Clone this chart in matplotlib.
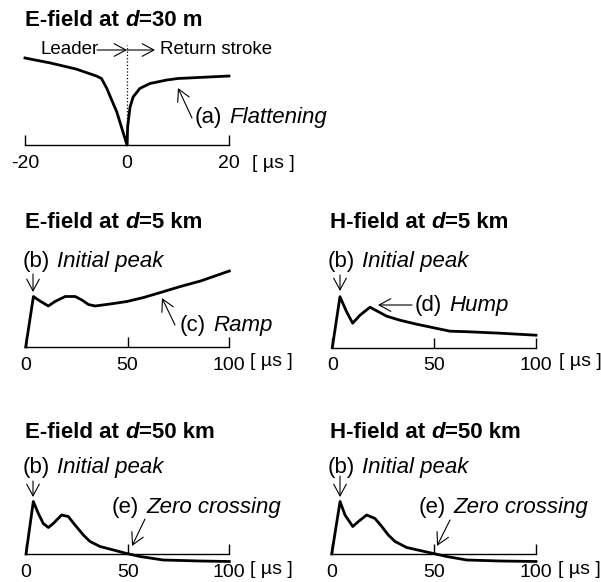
import matplotlib
matplotlib.use("Agg")
import matplotlib.pyplot as plt

plt.rcParams['font.family'] = ['Liberation Sans', 'DejaVu Sans']

# ---------------- data (amplitude in arbitrary units, time in microseconds) -------------
e30_t = [-20, -15, -10, -6, -5, -4, -2, 0, 0.13, 0.6, 1.2, 2.5, 4.5, 7.8, 10, 14, 20]
e30_v = [1.74, 1.64, 1.52, 1.38, 1.33, 1.14, 0.66, 0.0, 0.37, 0.76, 0.96, 1.13, 1.23, 1.30, 1.33, 1.35, 1.38]

e5_t = [0, 3.8, 7.0, 11.1, 14.4, 19.4, 24.3, 27.6, 30.8, 34.1, 41.5, 49.7, 57.9, 66.2, 76.0, 85.9, 100]
e5_v = [0.0, 1.01, 0.92, 0.82, 0.91, 1.01, 1.01, 0.94, 0.85, 0.82, 0.86, 0.91, 0.99, 1.09, 1.21, 1.32, 1.52]

h5_t = [0, 3.76, 7.0, 10.0, 13.6, 18.5, 22.6, 26.7, 33.2, 41.4, 49.6, 57.8, 66.0, 82.3, 100]
h5_v = [0.0, 1.02, 0.72, 0.49, 0.65, 0.81, 0.72, 0.63, 0.55, 0.47, 0.40, 0.33, 0.32, 0.29, 0.25]

e50_t = [0, 3.6, 6.07, 8.5, 11.0, 13.4, 17.5, 20.8, 24.1, 28.2, 31.5, 36.4, 43.0, 49.5, 56.1, 67.5, 85.6, 100]
e50_v = [0.0, 1.05, 0.81, 0.61, 0.53, 0.61, 0.78, 0.75, 0.58, 0.38, 0.25, 0.15, 0.08, 0.01, -0.05, -0.12, -0.14, -0.15]

h50_t = [0, 4.1, 6.5, 10.3, 13.1, 17.1, 21.2, 24.5, 27.7, 31.0, 36.7, 43.2, 49.8, 56.3, 66.1, 82.4, 100]
h50_v = [0.0, 1.05, 0.78, 0.55, 0.65, 0.78, 0.71, 0.55, 0.38, 0.25, 0.13, 0.07, 0.01, -0.05, -0.12, -0.14, -0.15]

ticks_near = [-20, 0, 20]
ticks_far = [0, 50, 100]
tick_labels_near = ['-20', '0', '20']
tick_labels_far = ['0', '50', '100']
unit_label = '[ µs ]'
leader_marker_top = 2.0  # height of dotted divider at t = 0

# ---------------- layout helpers ----------------
W, H = 601, 582
fig = plt.figure(figsize=(W / 100, H / 100), dpi=100)

FS_TITLE = 16
FS_TEXT = 16
FS_SMALL = 13.5
FS_TICK = 14
SCALE = 50.0  # pixels per amplitude unit


def fx(x):
    return x / W


def fy(y):
    return 1 - y / H


def panel(x0px, x1px, basepx, xlim, ticks, labels, top=1.9, bot=0.4):
    ax = fig.add_axes([fx(x0px), 1 - (basepx + bot * SCALE) / H,
                       (x1px - x0px) / W, (top + bot) * SCALE / H])
    ax.set_xlim(xlim)
    ax.set_ylim(-bot, top)
    ax.patch.set_visible(False)
    for s in ('left', 'right', 'top'):
        ax.spines[s].set_visible(False)
    ax.spines['bottom'].set_position(('data', 0))
    ax.spines['bottom'].set_bounds(xlim[0], xlim[1])
    ax.spines['bottom'].set_linewidth(1.0)
    ax.set_yticks([])
    ax.set_xticks(ticks)
    ax.set_xticklabels(labels)
    ax.tick_params(axis='x', direction='in', length=7.2, width=1.0, pad=7.0,
                   labelsize=FS_TICK)
    return ax


def chain(ax, parts, x, y, size):
    """parts: list of (text, weight, style, gap_pt)."""
    first = parts[0]
    t = fig.text(fx(x), fy(y), first[0], fontsize=size, fontweight=first[1],
                 fontstyle=first[2], va='center', ha='left')
    prev = t
    for txt, wt, st, gap in parts[1:]:
        prev = ax.annotate(txt, xy=(1, 0), xycoords=prev, xytext=(gap, 0),
                           textcoords='offset points', va='bottom', ha='left',
                           fontsize=size, fontweight=wt, fontstyle=st,
                           annotation_clip=False)
    return t


def title(ax, x, y, dist):
    chain(ax, [('E-field at' if dist[0] == 'E' else 'H-field at', 'bold', 'normal', 0),
               ('d', 'bold', 'italic', 4.4),
               (dist[1], 'bold', 'normal', 0)], x, y, FS_TITLE)


def label(ax, x, y, tag, word):
    chain(ax, [(tag, 'normal', 'normal', 0), (word, 'normal', 'italic', 5.0)], x, y, FS_TEXT)


def arrow(ax, tail, tip):
    ax.annotate('', xy=(fx(tip[0]), fy(tip[1])), xycoords='figure fraction',
                xytext=(fx(tail[0]), fy(tail[1])), textcoords='figure fraction',
                arrowprops=dict(arrowstyle='->,head_length=0.7,head_width=0.38',
                                lw=0.8, color='k', shrinkA=0, shrinkB=0,
                                mutation_scale=12),
                annotation_clip=False)


def unit(x, y):
    fig.text(fx(x), fy(y), unit_label, fontsize=FS_TICK, va='center', ha='left')


LW = 2.0

# ---------------- panel 1: E-field at 30 m ----------------
ax1 = panel(25, 229, 145, (-20, 20), ticks_near, tick_labels_near, top=2.3)
ax1.plot(e30_t, e30_v, color='k', lw=LW, clip_on=False, solid_joinstyle='round')
ax1.plot([0, 0], [0, leader_marker_top], color='k', lw=0.9, ls=':', clip_on=False)
title(ax1, 25, 20, ('E', '=30 m'))
fig.text(fx(40), fy(50), 'Leader', fontsize=FS_SMALL, va='center', ha='left')
fig.text(fx(160), fy(50), 'Return stroke', fontsize=FS_SMALL, va='center', ha='left')
arrow(ax1, (97, 50), (127, 50))
arrow(ax1, (127, 50), (155, 50))
label(ax1, 195, 118, '(a)', 'Flattening')
arrow(ax1, (192, 118), (178, 88))
unit(252, 163)

# ---------------- panel 2: E-field at 5 km ----------------
ax2 = panel(25.7, 229.3, 347, (0, 100), ticks_far, tick_labels_far)
ax2.plot(e5_t, e5_v, color='k', lw=LW, clip_on=False, solid_joinstyle='round')
title(ax2, 25, 222, ('E', '=5 km'))
label(ax2, 23, 262, '(b)', 'Initial peak')
arrow(ax2, (33, 274), (33, 292))
label(ax2, 180, 326, '(c)', 'Ramp')
arrow(ax2, (175, 325), (162, 298))
unit(250, 362)

# ---------------- panel 3: H-field at 5 km ----------------
ax3 = panel(332.3, 536, 347.7, (0, 100), ticks_far, tick_labels_far)
ax3.plot(h5_t, h5_v, color='k', lw=LW, clip_on=False, solid_joinstyle='round')
title(ax3, 330, 223, ('H', '=5 km'))
label(ax3, 328, 261, '(b)', 'Initial peak')
arrow(ax3, (340, 275), (340, 291))
label(ax3, 415, 305, '(d)', 'Hump')
arrow(ax3, (412, 305), (378, 305))
unit(559, 362)

# ---------------- panel 4: E-field at 50 km ----------------
ax4 = panel(26, 229.3, 554, (0, 100), ticks_far, tick_labels_far)
ax4.plot(e50_t, e50_v, color='k', lw=LW, clip_on=False, solid_joinstyle='round')
title(ax4, 25, 433, ('E', '=50 km'))
label(ax4, 23, 467, '(b)', 'Initial peak')
arrow(ax4, (33, 481), (33, 497))
label(ax4, 112, 508, '(e)', 'Zero crossing')
arrow(ax4, (145, 519), (132, 546))
unit(250, 570)

# ---------------- panel 5: H-field at 50 km ----------------
ax5 = panel(331.7, 536, 554, (0, 100), ticks_far, tick_labels_far)
ax5.plot(h50_t, h50_v, color='k', lw=LW, clip_on=False, solid_joinstyle='round')
title(ax5, 330, 433, ('H', '=50 km'))
label(ax5, 328, 467, '(b)', 'Initial peak')
arrow(ax5, (340, 476), (340, 497))
label(ax5, 419, 508, '(e)', 'Zero crossing')
arrow(ax5, (450, 520), (437, 546))
unit(558, 570)

fig.savefig('out.png', dpi=100)
